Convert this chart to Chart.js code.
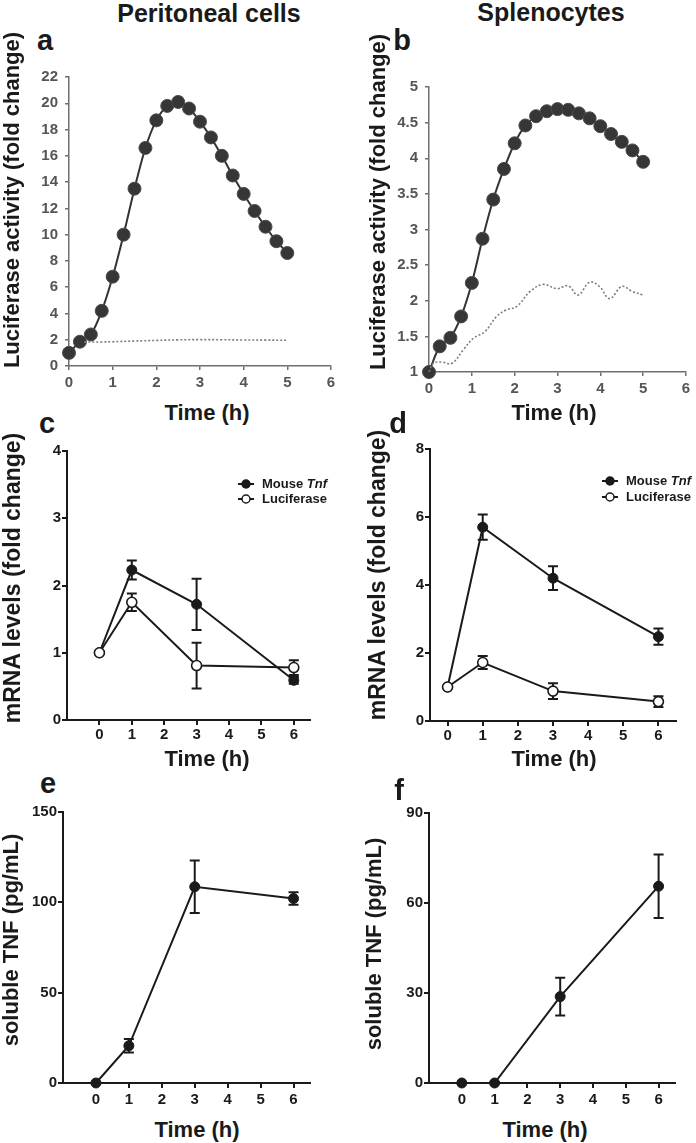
<!DOCTYPE html>
<html lang="en">
<head>
<meta charset="UTF-8">
<title>Luciferase reporter and TNF time course</title>
<script src="https://cdn.jsdelivr.net/npm/chart.js@4.4.1/dist/chart.umd.min.js"></script>
<style>
  html, body { margin: 0; padding: 0; background: #fff; overflow: hidden; }
  body { width: 696px; height: 1143px; position: relative; font-family: 'Liberation Sans', Arial, sans-serif; font-weight: bold; color: #1a1a1a; }
  .panel { position: absolute; }
  .txt { position: absolute; white-space: nowrap; line-height: 1; transform: translate(-50%, -50%); z-index: 2; }
  .rot { transform: translate(-50%, -50%) rotate(-90deg); }
  .big { font-size: 25px; }
  .letter { font-size: 29px; }
  .xt { font-size: 22px; }
  .yt { font-size: 22px; }
</style>
</head>
<body>
  <!-- column titles and panel letters -->
  <div class="txt big" style="left:209px; top:13px;">Peritoneal cells</div>
  <div class="txt big" style="left:551px; top:12px;">Splenocytes</div>
  <div class="txt letter" style="left:45px; top:40px;">a</div>
  <div class="txt letter" style="left:402px; top:40px;">b</div>
  <div class="txt letter" style="left:47px; top:423px;">c</div>
  <div class="txt letter" style="left:398px; top:423px;">d</div>
  <div class="txt letter" style="left:48px; top:783px;">e</div>
  <div class="txt letter" style="left:399px; top:790px;">f</div>

  <!-- axis titles -->
  <div class="txt yt rot" style="left:12px; top:200px;">Luciferase activity (fold change)</div>
  <div class="txt yt rot" style="left:378px; top:202px;">Luciferase activity (fold change)</div>
  <div class="txt yt rot" style="left:12px; top:578px; font-size:23px;">mRNA levels (fold change)</div>
  <div class="txt yt rot" style="left:377px; top:575px; font-size:23px;">mRNA levels (fold change)</div>
  <div class="txt yt rot" style="left:11px; top:940px;">soluble TNF (pg/mL)</div>
  <div class="txt yt rot" style="left:374px; top:944px;">soluble TNF (pg/mL)</div>
  <div class="txt xt" style="left:207px; top:413px;">Time (h)</div>
  <div class="txt xt" style="left:554px; top:413px;">Time (h)</div>
  <div class="txt xt" style="left:207px; top:759px;">Time (h)</div>
  <div class="txt xt" style="left:554px; top:759px;">Time (h)</div>
  <div class="txt xt" style="left:197px; top:1130px;">Time (h)</div>
  <div class="txt xt" style="left:545px; top:1130px;">Time (h)</div>

  <div class="panel" style="left:19px; top:65px;"><canvas id="chartA" width="320" height="335"></canvas></div>
  <div class="panel" style="left:379px; top:75px;"><canvas id="chartB" width="315" height="331"></canvas></div>
  <div class="panel" style="left:17px; top:439px;"><canvas id="chartC" width="321" height="315"></canvas></div>
  <div class="panel" style="left:380px; top:437px;"><canvas id="chartD" width="316" height="318"></canvas></div>
  <div class="panel" style="left:13px; top:800px;"><canvas id="chartE" width="305" height="317"></canvas></div>
  <div class="panel" style="left:379px; top:801px;"><canvas id="chartF" width="304" height="316"></canvas></div>

<script>
// ---- data ----
// luciferase kinetics (a, b), readings every 15 min
const lucTime = [0, 0.25, 0.5, 0.75, 1, 1.25, 1.5, 1.75, 2, 2.25, 2.5, 2.75, 3, 3.25, 3.5, 3.75, 4, 4.25, 4.5, 4.75, 5];
const periLuc = [1.0, 1.85, 2.4, 4.2, 6.8, 10.0, 13.5, 16.6, 18.7, 19.8, 20.1, 19.6, 18.6, 17.4, 16.0, 14.5, 13.1, 11.8, 10.6, 9.5, 8.6];
const spleLuc = [1.0, 1.36, 1.48, 1.78, 2.25, 2.87, 3.42, 3.85, 4.21, 4.46, 4.59, 4.66, 4.69, 4.68, 4.63, 4.56, 4.45, 4.34, 4.23, 4.11, 3.95];

// dotted control traces
const periCtrlTime = [0.35, 0.75, 1, 1.5, 2, 2.5, 3, 3.5, 4, 4.5, 5];
const periCtrl = [1.82, 1.83, 1.85, 1.9, 1.95, 1.99, 2.01, 2.0, 1.98, 1.97, 1.96];
const spleCtrlTime = [0, 0.1, 0.3, 0.53, 0.8, 1.03, 1.31, 1.58, 1.8, 2.05, 2.36, 2.67, 2.98, 3.25, 3.48, 3.75, 3.98, 4.22, 4.5, 4.75, 5.0];
const spleCtrl = [1.0, 1.12, 1.14, 1.12, 1.31, 1.47, 1.57, 1.78, 1.87, 1.92, 2.13, 2.23, 2.17, 2.21, 2.08, 2.26, 2.2, 2.03, 2.2, 2.13, 2.08];

// mRNA and soluble TNF (c - f)
const sampleTime = [0, 1, 3, 6];
const periTnf = [1.0, 2.23, 1.72, 0.59];
const periTnfErr = [0, 0.14, 0.38, 0.05];
const periLucMrna = [1.0, 1.75, 0.81, 0.78];
const periLucMrnaErr = [0, 0.13, 0.34, 0.11];
const spleTnf = [1.0, 5.70, 4.20, 2.48];
const spleTnfErr = [0, 0.37, 0.35, 0.24];
const spleLucMrna = [1.0, 1.72, 0.88, 0.57];
const spleLucMrnaErr = [0, 0.19, 0.23, 0.16];
const periSolTnf = [0, 20.6, 108.6, 102.1];
const periSolTnfErr = [0, 3.7, 14.5, 3.5];
const spleSolTnf = [0, 0, 28.8, 65.6];
const spleSolTnfErr = [0, 0, 6.3, 10.6];

const hourTicks = [0, 1, 2, 3, 4, 5, 6];
const legendParts = [[['Mouse ', false], ['Tnf', true]], [['Luciferase', false]]];

// ---- helpers ----
const FONT = "'Liberation Sans', Arial, sans-serif";
Chart.defaults.font.family = FONT;
Chart.defaults.font.weight = 'bold';
Chart.defaults.animation = false;

const zip = (xs, ys) => xs.map((x, i) => ({ x: x, y: ys[i] }));

// vertical error bars with caps, drawn under the markers
const errorBars = {
  id: 'errorBars',
  beforeDatasetsDraw(chart) {
    const ctx = chart.ctx, xs = chart.scales.x, ys = chart.scales.y;
    chart.data.datasets.forEach(ds => {
      if (!ds.errors) return;
      ctx.save();
      ctx.strokeStyle = '#1a1a1a';
      ctx.lineWidth = 2;
      ds.data.forEach((p, i) => {
        const e = ds.errors[i];
        if (!e) return;
        const x = xs.getPixelForValue(p.x);
        const y1 = ys.getPixelForValue(p.y + e), y2 = ys.getPixelForValue(p.y - e);
        ctx.beginPath();
        ctx.moveTo(x, y1); ctx.lineTo(x, y2);
        ctx.moveTo(x - 5, y1); ctx.lineTo(x + 5, y1);
        ctx.moveTo(x - 5, y2); ctx.lineTo(x + 5, y2);
        ctx.stroke();
      });
      ctx.restore();
    });
  }
};

// small GraphPad-style legend with italic gene name
const miniLegend = {
  id: 'miniLegend',
  afterDraw(chart, args, opts) {
    if (!opts.show) return;
    const ctx = chart.ctx, a = chart.chartArea;
    const cx = a.right + opts.dx, y0 = a.top + opts.dy;
    legendParts.forEach((parts, i) => {
      const y = y0 + i * opts.gap;
      ctx.save();
      ctx.strokeStyle = '#1a1a1a';
      ctx.lineWidth = 2;
      ctx.beginPath(); ctx.moveTo(cx - 8, y); ctx.lineTo(cx + 8, y); ctx.stroke();
      ctx.beginPath(); ctx.arc(cx, y, 4, 0, Math.PI * 2);
      ctx.fillStyle = i === 1 ? '#fff' : '#1a1a1a';
      ctx.fill();
      ctx.lineWidth = 1.5;
      ctx.stroke();
      ctx.fillStyle = '#1a1a1a';
      ctx.textBaseline = 'middle';
      let x = cx + 16;
      parts.forEach(([t, italic]) => {
        ctx.font = (italic ? 'italic ' : '') + 'bold 13px ' + FONT;
        ctx.fillText(t, x, y);
        x += ctx.measureText(t).width;
      });
      ctx.restore();
    });
  }
};

function scale(o) {
  return {
    type: 'linear',
    min: o.min, max: o.max,
    ticks: {
      stepSize: o.step,
      color: o.color,
      font: { size: 15, weight: 'bold' },
      padding: o.pad,
      callback: v => String(v)
    },
    grid: { drawOnChartArea: false, drawTicks: true, tickLength: o.tick, color: o.line, lineWidth: o.lw },
    border: { display: true, color: o.line, width: o.lw },
    afterBuildTicks: s => { if (o.values) s.ticks = o.values.map(v => ({ value: v })); },
    afterFit: s => {
      if (o.axis === 'x') s.height = 30; else s.width = 50;
      s.paddingLeft = 0; s.paddingRight = 0; s.paddingTop = 0; s.paddingBottom = 0;
    }
  };
}

function makeChart(id, datasets, xs, ys, legend, padRight) {
  new Chart(document.getElementById(id), {
    type: 'line',
    data: { datasets: datasets },
    options: {
      responsive: false,
      layout: { padding: { top: 12, right: padRight || 8, bottom: 4, left: 0 } },
      plugins: {
        legend: { display: false },
        tooltip: { enabled: false },
        miniLegend: legend || { show: false }
      },
      scales: { x: xs, y: ys }
    },
    plugins: [errorBars, miniLegend]
  });
}

// ---- a / b: luciferase kinetics ----
const greyAxis = { color: '#555', line: '#6e6e6e', lw: 1.5, tick: 4 };

function kineticSets(main, ctrlX, ctrlY) {
  return [
    {
      data: zip(ctrlX, ctrlY), borderColor: '#7d7d7d', borderWidth: 1.6, borderDash: [2, 2],
      pointRadius: 0, tension: 0.4, clip: false
    },
    {
      data: zip(lucTime, main), borderColor: '#333', borderWidth: 2, tension: 0.3,
      pointRadius: 6.5, pointBackgroundColor: '#363636', pointBorderColor: '#4a4a4a', pointBorderWidth: 1, clip: false
    }
  ];
}

makeChart('chartA', kineticSets(periLuc, periCtrlTime, periCtrl),
  scale(Object.assign({ axis: 'x', min: 0, max: 6, step: 1, pad: 4 }, greyAxis)),
  scale(Object.assign({ axis: 'y', min: 0, max: 22, step: 2, pad: 7 }, greyAxis)));

makeChart('chartB', kineticSets(spleLuc, spleCtrlTime, spleCtrl),
  scale(Object.assign({ axis: 'x', min: 0, max: 6, step: 1, pad: 4 }, greyAxis)),
  scale(Object.assign({ axis: 'y', min: 1, max: 5, step: 0.5, pad: 7 }, greyAxis)));

// ---- c - f: qPCR and ELISA ----
const blackAxis = { color: '#1a1a1a', line: '#1a1a1a', lw: 2, tick: 5 };

function filledSet(vals, errs) {
  return {
    data: zip(sampleTime, vals), errors: errs, borderColor: '#1a1a1a', borderWidth: 2, tension: 0,
    pointRadius: 5, pointBackgroundColor: '#1a1a1a', pointBorderColor: '#1a1a1a', pointBorderWidth: 1, clip: false
  };
}
function openSet(vals, errs) {
  return {
    data: zip(sampleTime, vals), errors: errs, borderColor: '#1a1a1a', borderWidth: 2, tension: 0,
    pointRadius: 5, pointBackgroundColor: '#fff', pointBorderColor: '#1a1a1a', pointBorderWidth: 1.6, clip: false
  };
}

makeChart('chartC', [openSet(periLucMrna, periLucMrnaErr), filledSet(periTnf, periTnfErr)],
  scale(Object.assign({ axis: 'x', min: -1, max: 6.5, values: hourTicks, pad: 1 }, blackAxis)),
  scale(Object.assign({ axis: 'y', min: 0, max: 4, step: 1, pad: 1 }, blackAxis)),
  { show: true, dx: -64, dy: 33, gap: 15 }, 28);

makeChart('chartD', [openSet(spleLucMrna, spleLucMrnaErr), filledSet(spleTnf, spleTnfErr)],
  scale(Object.assign({ axis: 'x', min: -0.5, max: 6.5, values: hourTicks, pad: 1 }, blackAxis)),
  scale(Object.assign({ axis: 'y', min: 0, max: 8, step: 2, pad: 1 }, blackAxis)),
  { show: true, dx: -66, dy: 32, gap: 16 }, 20);

makeChart('chartE', [filledSet(periSolTnf, periSolTnfErr)],
  scale(Object.assign({ axis: 'x', min: -1, max: 6.5, values: hourTicks, pad: 3 }, blackAxis)),
  scale(Object.assign({ axis: 'y', min: 0, max: 150, step: 50, pad: 1 }, blackAxis)));

makeChart('chartF', [filledSet(spleSolTnf, spleSolTnfErr)],
  scale(Object.assign({ axis: 'x', min: -1, max: 6.5, values: hourTicks, pad: 3 }, blackAxis)),
  scale(Object.assign({ axis: 'y', min: 0, max: 90, step: 30, pad: 1 }, blackAxis)));
</script>
</body>
</html>
